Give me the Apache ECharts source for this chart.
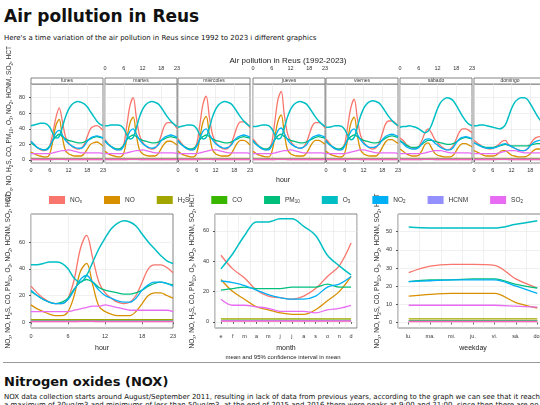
<!DOCTYPE html>
<html>
<head>
<meta charset="utf-8">
<script src="https://cdn.jsdelivr.net/npm/echarts@6/dist/echarts.min.js"></script>
<style>
body{margin:0;width:540px;height:405px;overflow:hidden;font-family:"DejaVu Sans",sans-serif;background:#fff;position:relative}
#chart{position:absolute;left:0;top:0;width:640px;height:370px}
.t{position:absolute;left:4px;white-space:nowrap;color:#111}
</style>
</head>
<body>
<div class="t" style="top:6px;font-size:17px;font-weight:bold">Air pollution in Reus</div>
<div class="t" style="top:34px;font-size:7px">Here's a time variation of the air pollution in Reus since 1992 to 2023 i different graphics</div>
<div id="chart"></div>
<div style="position:absolute;left:3px;top:362px;width:540px;border-top:1px solid #999"></div>
<div class="t" style="top:374px;font-size:13px;font-weight:bold">Nitrogen oxides (NOX)</div>
<div class="t" style="top:393px;font-size:7px;line-height:8px">NOX data collection starts around August/September 2011, resulting in lack of data from previous years, according to the graph we can see that it reaches<br>a maximum of 30μg/m3 and minimums of less than 50μg/m3, at the end of 2015 and 2016 there were peaks at 9:00 and 21:00, since then there are no</div>
<script>
var pollutants = ['NOx','NO','H2S','CO','PM10','O3','NO2','HCNM','SO2','HCT'];
var colors = ['#F8766D','#D89000','#A3A500','#39B600','#00BF7D','#00BFC4','#00B0F6','#9590FF','#E76BF3','#FF62BC'];
var days = ['lunes','martes','miércoles','jueves','viernes','sábado','domingo'];
var hours = ['0','1','2','3','4','5','6','7','8','9','10','11','12','13','14','15','16','17','18','19','20','21','22','23'];
var months = ['e','f','m','a','m','j','j','a','s','o','n','d'];
var weekdays = ['lu.','ma.','mi.','ju.','vi.','sá.','do.'];

// hour-of-day by weekday
var dayNOx = [
 [24,20,16,13,12,13,18,35,55,67,50,30,22,18,15,14,15,20,30,40,43,44,42,38],
 [26,21,17,14,13,14,20,45,70,80,55,32,23,18,15,14,15,21,32,44,48,48,46,40],
 [27,22,17,14,13,14,21,46,72,82,56,33,23,18,15,14,15,21,32,44,49,49,47,41],
 [27,22,17,14,13,14,22,50,78,88,58,34,24,19,16,15,16,22,33,44,48,48,46,41],
 [27,22,17,14,13,14,21,45,68,78,54,32,23,18,15,14,16,22,34,46,50,50,48,43],
 [28,25,20,17,15,15,17,25,35,40,35,27,22,18,15,13,14,18,27,36,40,40,38,35],
 [25,22,19,16,15,14,15,17,20,24,25,20,17,15,13,12,12,14,20,26,29,30,29,27]];
var dayNO = [
 [10,8,6,5,4,4,8,25,45,52,30,12,8,6,5,5,5,8,14,20,22,23,21,18],
 [11,8,6,5,4,4,9,28,48,55,32,13,8,6,5,5,5,8,15,21,24,24,22,19],
 [11,8,6,5,4,4,9,29,49,56,33,13,8,6,5,5,5,8,15,22,25,25,23,19],
 [11,8,6,5,4,4,10,30,50,58,34,13,8,6,5,5,5,8,15,22,25,25,23,20],
 [11,8,6,5,4,4,9,28,48,55,32,13,8,6,5,5,5,9,16,23,26,26,24,21],
 [14,11,8,6,5,5,6,12,20,22,16,9,6,5,4,4,4,6,12,18,21,21,19,17],
 [12,10,8,6,5,5,5,6,9,12,12,9,6,5,4,4,4,5,8,12,14,14,13,12]];
var dayO3 = [
 [44,45,46,47,47,46,42,34,28,30,42,55,65,71,74,75,74,72,68,62,56,50,46,44],
 [44,44,45,45,45,44,40,32,27,29,41,55,65,71,74,75,74,72,67,61,55,50,46,43],
 [42,43,44,45,45,44,40,32,27,29,41,55,65,71,74,75,74,72,67,61,55,50,46,43],
 [43,43,44,45,45,44,40,32,27,29,41,55,65,71,74,75,74,72,67,61,55,50,46,43],
 [42,42,43,44,44,43,39,31,26,29,42,56,66,72,75,76,75,73,68,62,56,51,47,44],
 [42,43,43,44,43,42,40,37,35,37,44,55,66,74,78,80,79,76,70,63,56,50,46,44],
 [44,44,45,45,44,43,42,41,40,41,45,55,66,74,78,80,80,78,72,65,58,52,48,45]];
var dayNO2 = [
 [24,20,16,14,13,13,17,26,35,38,32,25,21,18,16,15,15,18,24,28,30,31,30,28],
 [25,20,17,14,13,13,18,28,37,40,33,26,21,18,16,15,16,19,25,29,31,32,31,29],
 [25,20,17,14,13,13,18,28,37,40,33,26,21,18,16,15,16,19,25,29,31,32,31,29],
 [25,20,17,14,13,13,18,28,38,41,34,26,21,18,16,15,16,19,25,29,31,32,31,29],
 [25,20,17,14,13,13,18,28,37,40,33,26,21,18,16,16,17,20,26,30,32,33,32,30],
 [24,21,17,15,14,14,16,21,26,27,26,22,19,16,14,13,13,16,22,27,29,30,29,27],
 [22,20,18,16,15,15,15,16,18,20,21,19,17,15,13,12,12,14,18,22,24,25,24,22]];
var dayPM10 = [
 [22,19,16,14,13,14,18,25,30,33,30,27,25,24,23,22,22,23,25,27,29,30,29,28],
 [24,20,17,15,14,15,19,26,30,32,30,27,25,24,23,22,22,23,25,27,29,30,29,28],
 [24,20,17,15,14,15,19,26,30,32,30,27,25,24,23,22,22,23,25,27,29,30,29,28],
 [24,20,17,15,14,15,19,26,31,33,30,27,25,24,23,22,22,23,25,27,29,30,29,28],
 [24,20,17,15,14,15,19,26,30,32,30,27,25,24,23,22,22,23,25,28,30,31,30,29],
 [25,22,19,17,16,16,17,20,23,25,25,24,23,22,21,20,20,21,23,26,28,29,28,27],
 [22,20,18,17,16,16,16,17,18,19,20,19,18,18,18,18,18,18,19,20,21,21,21,20]];
var daySO2 = [
 [8,8,8,8,8,8,8,9,10,11,12,12,13,12,11,10,9,9,9,9,9,9,9,8],
 [8,8,8,8,8,8,8,9,10,11,12,12,13,12,11,10,9,9,9,9,9,9,9,8],
 [8,8,8,8,8,8,8,9,10,11,12,13,13,12,11,10,9,9,9,9,9,9,9,8],
 [8,8,8,8,8,8,8,9,10,11,12,12,13,12,11,10,9,9,9,9,9,9,9,8],
 [8,8,8,8,8,8,8,9,10,11,12,13,13,12,11,10,9,9,9,9,9,9,9,8],
 [8,8,8,8,8,8,8,8,9,10,11,12,12,12,11,10,9,9,9,9,9,9,9,8],
 [8,8,8,8,8,8,8,8,9,10,11,12,12,12,11,10,9,9,9,9,9,9,9,8]];
var hourH2S  = [2,2,2,2,2,2,2,2,2,2,2,2,2,2,2,2,2,2,2,2,2,2,2,2];
var hourCO   = [1,1,1,1,1,1,1,1,1,1,1,1,1,1,1,1,1,1,1,1,1,1,1,1];
var hourHCNM = [0.8,0.8,0.8,0.8,0.8,0.8,0.8,0.8,0.9,0.9,0.9,0.8,0.8,0.8,0.8,0.8,0.8,0.8,0.8,0.8,0.8,0.8,0.8,0.8];
var hourHCT  = [0.5,0.5,0.5,0.5,0.5,0.5,0.5,0.5,0.6,0.6,0.6,0.5,0.5,0.5,0.5,0.5,0.5,0.5,0.5,0.5,0.5,0.5,0.5,0.5];

// overall hour of day
var hourNOx  = [27,22,18,15,14,14,18,32,55,65,48,30,22,18,15,14,15,20,30,40,43,43,41,37];
var hourNO   = [13,10,8,6,5,5,8,20,38,44,28,12,8,6,5,5,5,8,14,20,22,22,20,18];
var hourO3   = [43,43,44,45,45,44,40,33,30,35,45,55,63,70,74,76,75,72,66,60,55,50,46,44];
var hourNO2  = [24,20,17,15,14,14,17,24,32,35,30,24,20,18,16,15,15,18,24,28,30,30,29,27];
var hourPM10 = [23,20,17,15,14,15,18,25,30,32,30,26,24,23,22,21,21,22,24,27,29,30,29,28];
var hourSO2  = [8,8,8,8,8,8,8,9,10,11,12,12,13,12,11,10,9,9,9,9,9,9,9,8];

// month
var monNOx  = [44,35,29,21,17,16,15,17,22,30,37,52];
var monNO   = [28,20,15,10,8,6,5,5,8,14,20,30];
var monH2S  = [2,2,2,2,2,2,2,2,2,2,2,2];
var monCO   = [1,1,1,1,1,1,1,1,1,1,1,1];
var monPM10 = [21,22,23,22,22,22,23,23,23,25,23,23];
var monO3   = [35,45,57,66,66,68,68,63,57,44,37,31];
var monNO2  = [27,26,24,21,18,16,15,15,17,23,25,30];
var monHCNM = [0.8,0.8,0.8,0.8,0.8,0.8,0.8,0.8,0.8,0.8,0.8,0.8];
var monSO2  = [15,11,11,10,9,7,7,7,6,8,9,11];
var monHCT  = [0.5,0.5,0.5,0.5,0.5,0.5,0.5,0.5,0.5,0.5,0.5,0.5];

// weekday
var wdNOx  = [27.5,31,32,32,31.5,24,19];
var wdNO   = [14.5,15.5,16,16,16,11,8];
var wdH2S  = [2,2,2,2,2,2,2];
var wdCO   = [1,1,1,1,1,1,1];
var wdPM10 = [22.5,23.5,23.5,24,24,21,19];
var wdO3   = [52.5,52,52,52,52,54,56];
var wdNO2  = [22.5,23,23.5,23.5,23.5,20,16];
var wdHCNM = [0.8,0.8,0.8,0.8,0.8,0.8,0.8];
var wdSO2  = [9.5,9.5,9.5,9.5,9.5,9,8.5];
var wdHCT  = [0.5,0.5,0.5,0.5,0.5,0.5,0.5];

var subs = {NOx:['NO','x'],H2S:['H','2','S'],PM10:['PM','10'],O3:['O','3'],NO2:['NO','2'],SO2:['SO','2']};
function richName(n){
  var s = subs[n];
  if(!s) return '{a|'+n+'}';
  return '{a|'+s[0]+'}{s|'+s[1]+'}'+(s[2]?'{a|'+s[2]+'}':'');
}
var yName = '{a|NO}{s|x}{a|, NO, H}{s|2}{a|S, CO, PM}{s|10}{a|, O}{s|3}{a|, NO}{s|2}{a|, HCNM, SO}{s|2}{a|, HCT}';
var rich = {a:{fontSize:6.5,color:'#333'},s:{fontSize:4.5,color:'#333',padding:[4,0,0,0]}};

var chart = echarts.init(document.getElementById('chart'));
var grids=[], xAxes=[], yAxes=[], series=[], graphics=[];
var split = {show:true,lineStyle:{color:'#e6e6e6',width:0.6}};

function addSeries(gi, arrs){
  pollutants.forEach(function(p,k){
    series.push({name:p,type:'line',xAxisIndex:gi,yAxisIndex:gi,data:arrs[k],
      showSymbol:false,smooth:0.35,lineStyle:{width:k==5?1.5:1.3,color:colors[k]},itemStyle:{color:colors[k]},z:k==5?3:2});
  });
}

// top panels
var lefts=[31,105,178,253,326,400,474];
days.forEach(function(d,i){
  var top = (i%2==1);
  grids.push({left:lefts[i],top:84,width:72,height:79,show:true,borderColor:'#666',borderWidth:0.8});
  xAxes.push({gridIndex:i,type:'category',data:hours,boundaryGap:false,position:top?'top':'bottom',
    axisLine:{show:false},
    axisTick:{show:true,inside:false,length:2,interval:function(k){return k%6==0||k==23;},lineStyle:{color:'#666'}},
    axisLabel:{show:true,margin:top?13:4,interval:function(k){return k%6==0||k==23;},fontSize:5.5,color:'#333'},
    splitLine:{show:true,interval:function(k){return k%6==0;},lineStyle:{color:'#e6e6e6',width:0.6}}});
  yAxes.push({gridIndex:i,type:'value',min:-4,max:97.6,
    axisLine:{show:false},
    axisTick:{show:i==0,length:2,customValues:[0,20,40,60,80]},
    axisLabel:{show:i==0,fontSize:5.5,color:'#333',margin:6,customValues:[0,20,40,60,80]},
    splitLine:split,
    name:i==0?yName:'',nameLocation:'middle',nameGap:17,nameRotate:90,nameTextStyle:{rich:rich}});
  addSeries(i,[dayNOx[i],dayNO[i],hourH2S,hourCO,dayPM10[i],dayO3[i],dayNO2[i],hourHCNM,daySO2[i],hourHCT]);
  graphics.push({type:'rect',shape:{x:lefts[i],y:78,width:72,height:6},style:{fill:'#fff',stroke:'#666',lineWidth:0.8}});
  graphics.push({type:'text',x:lefts[i]+36,y:81,style:{text:d,fontSize:5,fill:'#333',textAlign:'center',textVerticalAlign:'middle'}});
});

// bottom panels
var bot = [
 {left:31,width:142,data:hours,max:81,min:-4.3,ticks:[0,20,40,60],name:'hour',
  arrs:[hourNOx,hourNO,hourH2S,hourCO,hourPM10,hourO3,hourNO2,hourHCNM,hourSO2,hourHCT]},
 {left:215,width:142,data:months,max:71.2,min:-4,ticks:[0,20,40,60],name:'month',
  arrs:[monNOx,monNO,monH2S,monCO,monPM10,monO3,monNO2,monHCNM,monSO2,monHCT]},
 {left:398,width:150,data:weekdays,max:59.7,min:-3,ticks:[0,10,20,30,40,50],name:'weekday',
  arrs:[wdNOx,wdNO,wdH2S,wdCO,wdPM10,wdO3,wdNO2,wdHCNM,wdSO2,wdHCT]}];
bot.forEach(function(b,j){
  var gi = 7+j;
  grids.push({left:b.left,top:214,width:b.width,height:114,show:true,borderColor:'#666',borderWidth:0.8});
  var isHour = j==0;
  xAxes.push({gridIndex:gi,type:'category',data:b.data,boundaryGap:!isHour,
    axisLine:{show:false},
    axisTick:{show:true,length:2,alignWithLabel:true,interval:isHour?function(k){return k%6==0||k==23;}:0,lineStyle:{color:'#666'}},
    axisLabel:{fontSize:5.5,color:'#333',margin:5,interval:isHour?function(k){return k%6==0||k==23;}:0},
    splitLine:{show:true,interval:isHour?function(k){return k%6==0;}:0,lineStyle:{color:'#e6e6e6',width:0.6}},
    name:b.name,nameLocation:'middle',nameGap:17,nameTextStyle:{fontSize:7,color:'#222'}});
  yAxes.push({gridIndex:gi,type:'value',min:b.min,max:b.max,
    axisLine:{show:false},
    axisTick:{show:true,length:2,customValues:b.ticks},
    axisLabel:{fontSize:5.5,color:'#333',margin:6,customValues:b.ticks},
    splitLine:split,
    name:yName,nameLocation:'middle',nameGap:j==2?14:18,nameRotate:90,nameTextStyle:{rich:rich}});
  addSeries(gi,b.arrs);
});

graphics.push({type:'text',x:283,y:357,style:{text:'mean and 95% confidence interval in mean',fontSize:6,fill:'#222',textAlign:'center',textVerticalAlign:'middle'}});
graphics.push({type:'text',x:283,y:180,style:{text:'hour',fontSize:7,fill:'#222',textAlign:'center',textVerticalAlign:'middle'}});

chart.setOption({
  animation:false,
  title:{text:'Air pollution in Reus (1992-2023)',left:283,top:52,textAlign:'center',textStyle:{fontSize:8,fontWeight:'normal',color:'#222'}},
  legend:{data:pollutants,top:191,left:44,width:620,itemWidth:16,itemHeight:8,itemGap:22,icon:'rect',
    formatter:function(n){return richName(n);},
    textStyle:{rich:{a:{fontSize:6.5,color:'#333'},s:{fontSize:4.5,color:'#333',padding:[4,0,0,0]}}}},
  grid:grids,xAxis:xAxes,yAxis:yAxes,series:series,
  graphic:graphics
});
</script>
</body>
</html>
